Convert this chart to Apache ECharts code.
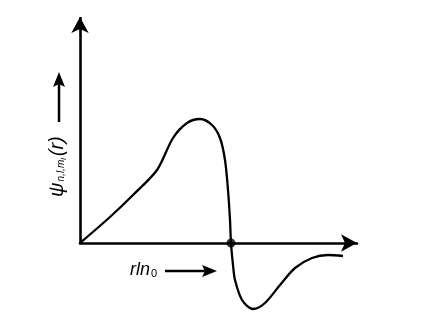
<!DOCTYPE html>
<html>
<head>
<meta charset="utf-8">
<script src="https://cdn.jsdelivr.net/npm/echarts@6/dist/echarts.min.js"></script>
<style>html,body{margin:0;padding:0;background:#fff;}#c{width:421px;height:317px;}</style>
</head>
<body>
<div id="c"></div>
<script>
// radial distance (arbitrary units) and wave function value (arbitrary units)
const rValues = [0, 30, 53, 77, 93, 107, 120, 132, 140, 145, 148, 150, 151, 153, 155, 162, 173, 185, 200, 215, 232, 248, 263];
const psiValues = [0, 26, 48, 73, 105, 120, 124, 118, 105, 83, 53, 23, 0, -22, -37, -57, -66, -60, -42, -25, -15, -12, -13];
const nodePoint = [151, 0];
const xLabel = 'rln';
const xLabelSub = '0';

const chart = echarts.init(document.getElementById('c'), null, {renderer: 'canvas'});
const curve = rValues.map((r, i) => [r, psiValues[i]]);

chart.setOption({
  animation: false,
  backgroundColor: '#fff',
  grid: {left: 80, right: 64, top: 17, bottom: 2},
  xAxis: {
    type: 'value', min: 0, max: 277,
    axisLine: {show: true, onZero: true, symbol: ['none', 'arrow'], symbolSize: [13, 16],
      lineStyle: {color: '#000', width: 2.6}},
    axisTick: {show: false}, axisLabel: {show: false}, splitLine: {show: false}
  },
  yAxis: {
    type: 'value', min: -72, max: 226,
    axisLine: {show: false}, axisTick: {show: false}, axisLabel: {show: false}, splitLine: {show: false}
  },
  series: [
    {
      type: 'line', data: curve, smooth: 0.3, showSymbol: false, silent: true,
      lineStyle: {color: '#000', width: 2.3},
      markLine: {
        silent: true, symbol: ['none', 'arrow'], symbolSize: [13, 16],
        label: {show: false},
        lineStyle: {color: '#000', width: 2.6, type: 'solid'},
        data: [[{coord: [0, 0]}, {coord: [0, 226]}]]
      }
    },
    {
      type: 'scatter', data: [nodePoint], symbolSize: 9, silent: true,
      itemStyle: {color: '#000'}
    }
  ],
  graphic: [
    {
      type: 'text', x: 130, y: 270,
      style: {
        text: '{a|' + xLabel + '}{s|' + xLabelSub + '}',
        verticalAlign: 'middle',
        rich: {
          a: {fontFamily: 'Liberation Sans', fontStyle: 'italic', fontSize: 18, fill: '#000'},
          s: {fontFamily: 'Liberation Sans', fontSize: 11, fill: '#000', padding: [8, 0, 0, 1]}
        }
      }
    },
    {type: 'line', shape: {x1: 165, y1: 271, x2: 205, y2: 271}, style: {stroke: '#000', lineWidth: 2.5}},
    {type: 'polygon', shape: {points: [[217, 271], [202, 265], [205, 271], [202, 277]]}, style: {fill: '#000'}},
    {
      type: 'text', x: 57, y: 197, rotation: Math.PI / 2,
      style: {
        text: '{a|ψ}{s|n,l,m}{t|l}{a|(r)}',
        verticalAlign: 'middle',
        rich: {
          a: {fontFamily: 'Liberation Sans', fontStyle: 'italic', fontSize: 20, fill: '#000'},
          s: {fontFamily: 'Liberation Sans', fontStyle: 'italic', fontSize: 10, fill: '#000', padding: [9, 0, 0, 1]},
          t: {fontFamily: 'Liberation Sans', fontStyle: 'italic', fontSize: 7, fill: '#000', padding: [14, 2, 0, 0]}
        }
      }
    },
    {type: 'line', shape: {x1: 59, y1: 122, x2: 59, y2: 84}, style: {stroke: '#000', lineWidth: 2.5}},
    {type: 'polygon', shape: {points: [[59, 72], [53, 87], [59, 84], [65, 87]]}, style: {fill: '#000'}}
  ]
});
</script>
</body>
</html>
